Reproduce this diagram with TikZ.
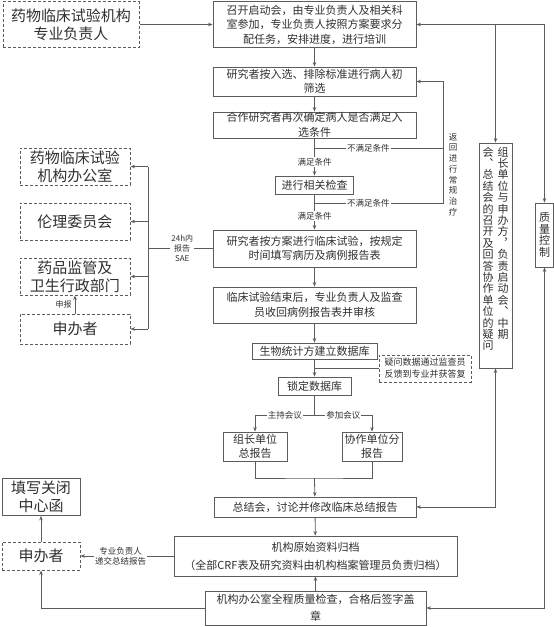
\documentclass[tikz,border=0pt]{standalone}
\usepackage{fontspec}
\setmainfont{Noto Sans CJK SC}
\usetikzlibrary{arrows.meta, positioning}
\definecolor{linegray}{HTML}{5C5C5C}
\definecolor{inkgray}{HTML}{303030}

\begin{document}
\begin{tikzpicture}[
    x=1pt, y=-1pt,
    >={Stealth[length=4.5pt, width=3.5pt]},
    every node/.style={text=inkgray},
    box/.style={draw=linegray, line width=0.8pt, fill=white, align=center, inner sep=0pt, font=\fontsize{11}{14.5}\selectfont},
    dbox/.style={box, dash pattern=on 3pt off 2pt, line width=1pt},
    big/.style={font=\fontsize{15}{18}\selectfont},
    tag/.style={fill=white, inner sep=1pt, align=center, font=\fontsize{8.5}{10}\selectfont},
    vcol/.style={align=center, inner sep=0pt, font=\fontsize{11}{11.4}\selectfont},
    link/.style={draw=linegray, line width=0.8pt}
  ]
    \useasboundingbox (0,0) rectangle (554,627);

    % main column
    \node[box, minimum width=203, minimum height=46] (start) at (314.5,24.5) {召开启动会，由专业负责人及相关科\\室参加，专业负责人按照方案要求分\\配任务，安排进度，进行培训};
    \node[box, minimum width=203, minimum height=29] (screen) at (314.5,81.5) {研究者按入选、排除标准进行病人初\\筛选};
    \node[box, minimum width=203, minimum height=26] (recheck) at (314.5,125) {合作研究者再次确定病人是否满足入\\选条件};
    \node[box, minimum width=78, minimum height=18] (exam) at (314.5,185) {进行相关检查};
    \node[box, minimum width=203, minimum height=37] (trial) at (314.5,248.5) {研究者按方案进行临床试验，按规定\\时间填写病历及病例报告表};
    \node[box, minimum width=203, minimum height=36] (collect) at (314.5,305) {临床试验结束后，专业负责人及监查\\员收回病例报告表并审核};
    \node[box, minimum width=125, minimum height=16] (dbase) at (314.5,351) {生物统计方建立数据库};
    \node[dbox, minimum width=92, minimum height=27, font=\fontsize{9}{12}\selectfont] (query) at (425,368.5) {疑问数据通过监查员\\反馈到专业并获答复};
    \node[box, minimum width=73, minimum height=18] (lock) at (314.5,386) {锁定数据库};
    \node[box, minimum width=64, minimum height=29] (leadrep) at (255,446.5) {组长单位\\总报告};
    \node[box, minimum width=60, minimum height=29] (subrep) at (372,446.5) {协作单位分\\报告};
    \node[box, minimum width=202, minimum height=20] (summary) at (315,507) {总结会，讨论并修改临床总结报告};
    \node[box, minimum width=283, minimum height=40, font=\fontsize{11}{18}\selectfont] (archive) at (315.5,556) {机构原始资料归档\\（全部CRF表及研究资料由机构档案管理员负责归档）};
    \node[box, minimum width=221, minimum height=34, font=\fontsize{11}{17}\selectfont] (qcheck) at (315.5,608) {机构办公室全程质量检查，合格后签字盖\\章};

    % left column
    \node[dbox, big, minimum width=136, minimum height=46] (orgA) at (71,24.5) {药物临床试验机构\\专业负责人};
    \node[dbox, big, minimum width=110, minimum height=37] (office) at (75,166.5) {药物临床试验\\机构办公室};
    \node[dbox, big, minimum width=110, minimum height=37] (ethics) at (75,221.5) {伦理委员会};
    \node[dbox, big, minimum width=110, minimum height=37] (regul) at (75,276.5) {药品监管及\\卫生行政部门};
    \node[dbox, big, minimum width=110, minimum height=30] (sponsorA) at (75,329) {申办者};
    \node[box, big, minimum width=78, minimum height=37] (close) at (41,497) {填写关闭\\中心函};
    \node[dbox, big, minimum width=78, minimum height=28] (sponsorB) at (41,556) {申办者};

    % right side
    \node[box, minimum width=33, minimum height=225] (lead) at (495.5,255.5) {};
    \node[vcol, anchor=north] (leadR) at ([xshift=7.5pt, yshift=-4pt]lead.north) {组\\长\\单\\位\\与\\申\\办\\方\\︐\\负\\责\\启\\动\\会\\︑\\中\\期};
    \node[vcol, anchor=north] (leadL) at ([xshift=-7.5pt, yshift=-4pt]lead.north) {会\\︑\\总\\结\\会\\的\\召\\开\\及\\回\\答\\协\\作\\单\\位\\的\\疑\\问};
    \node[box, minimum width=18, minimum height=64, font=\fontsize{11}{11.5}\selectfont] (qc) at (544.5,235) {质\\量\\控\\制};
    \node[align=center, inner sep=0pt, font=\fontsize{8.5}{10.7}\selectfont] (backlab) at (453,174.5) {返\\回\\进\\行\\常\\规\\治\\疗};

    \coordinate (fail1) at (314.5,148);
    \coordinate (fail2) at (314.5,203);
    \coordinate (back) at (443,203);
    \coordinate (fork) at (314.5,415);
    \coordinate (merge) at (314.5,478);
    \coordinate (sae) at (148,248.5);

    \draw[link, ->] (orgA) -- (start);
    \draw[link, ->] (start) -- (screen);
    \draw[link, ->] (screen) -- (recheck);
    \draw[link, ->] (recheck) -- node[tag, pos=0.63] {满足条件} (exam);
    \draw[link] (fail1) -- node[tag, pos=0.42] {不满足条件} (fail1 -| back);
    \draw[link, ->] (fail2) -- node[tag, pos=0.42] {不满足条件} (back) |- (screen.east);
    \draw[link, ->] (exam) -- node[tag, pos=0.61] {满足条件} (trial);
    \draw[link, ->] (trial) -- (collect);
    \draw[link, ->] (collect) -- (dbase);
    \draw[link, ->] (dbase) -- (lock);
    \draw[link] (query.west) -- (query.west -| lock.north);
    \draw[link] (lock) -- (fork);
    \draw[link, ->] (fork) -- node[tag] {主持会议} (fork -| leadrep) -- (leadrep);
    \draw[link, ->] (fork) -- node[tag] {参加会议} (fork -| subrep) -- (subrep);
    \draw[link] (leadrep) |- (merge) -| (subrep);
    \draw[link, ->] (merge) -- (summary);
    \draw[link, ->] (summary) -- (archive);
    \draw[link, ->] (qcheck) -- (archive);
    \draw[link, ->] (archive) -- node[tag, pos=0.57] {专业负责人\\递交总结报告} (sponsorB);
    \draw[link, ->] (sponsorB) -- (close);
    \draw[link, ->] (qcheck) -| (sponsorB);

    \draw[link, <->] (start) -| (qc);
    \draw[link, ->] (start -| lead) -- (lead);
    \draw[link, <->] (qc) |- (qcheck);
    \draw[link, <->] (lead) |- (summary);

    \draw[link] (trial) -- node[tag, pos=0.47, font=\fontsize{8}{10}\selectfont] {24h内\\报告\\SAE} (sae);
    \draw[link] (sae |- office) -- (sae |- sponsorA);
    \foreach \n in {office, ethics, regul, sponsorA}
      \draw[link, ->] (sae |- \n) -- (\n);
    \draw[link, ->] (sponsorA) -- node[left, inner sep=3pt, font=\fontsize{8}{10}\selectfont] {申报} (regul);
  \end{tikzpicture}
\end{document}
